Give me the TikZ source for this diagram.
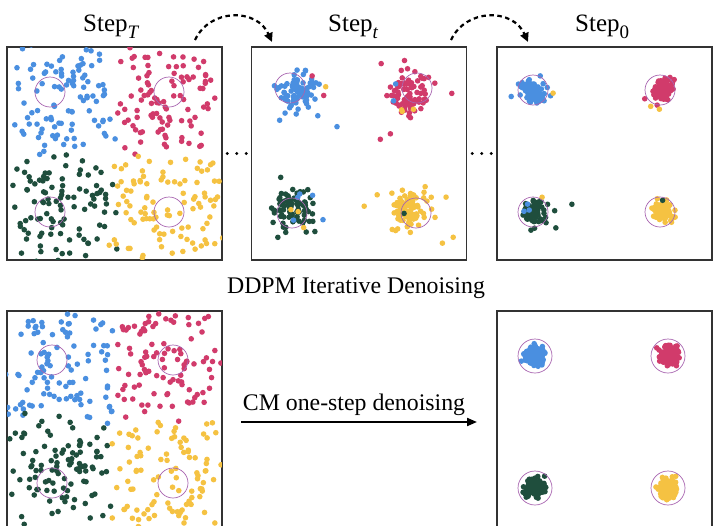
\documentclass[tikz,border=0pt]{standalone}
\usepackage{fontspec}
\setmainfont{Liberation Serif}
\usetikzlibrary{arrows.meta,calc}
\definecolor{cblue}{HTML}{4A8FE0}
\definecolor{cred}{HTML}{D13B6B}
\definecolor{cgreen}{HTML}{1F4E3D}
\definecolor{cyellow}{HTML}{F5C242}
\definecolor{cring}{HTML}{A865B0}
\definecolor{cframe}{HTML}{333333}
\newcommand\dotr{2.8pt}
% gaussian cluster: colour, cx, cy, sigma, n
\newcommand\gpts[5]{%
  \foreach \k in {1,...,#5}{%
    \pgfmathsetmacro\px{#2+#4*(rand+rand+rand)}%
    \pgfmathsetmacro\py{#3+#4*(rand+rand+rand)}%
    \fill[#1] (\px,\py) circle[radius=\dotr];
  }}
% noisy quadrant: colour, cx, cy, half width, noise, n
\newcommand\upts[6]{%
  \foreach \k in {1,...,#6}{%
    \pgfmathsetmacro\px{#2+#4*rand+#5*(rand+rand+rand)}%
    \pgfmathsetmacro\py{#3+#4*rand+#5*(rand+rand+rand)}%
    \fill[#1] (\px,\py) circle[radius=\dotr];
  }}
\newcommand\subx[1]{\raisebox{-7pt}{\fontsize{19}{19}\selectfont #1}}
\begin{document}
\begin{tikzpicture}[x=1pt,y=-1pt,
  panel/.style={draw=cframe,line width=1.1pt,inner sep=0pt,minimum width=215pt,minimum height=213pt},
  lowpanel/.style={panel,minimum height=240pt},
  ring/.style={draw=cring,line width=0.7pt},
  lbl/.style={font=\fontsize{23.8}{27}\selectfont,anchor=base,inner sep=0pt},
  ttl/.style={font=\fontsize{25}{29}\selectfont,anchor=base west,inner sep=0pt},
  hop/.style={line width=2.2pt,dash pattern=on 4.5pt off 3.5pt,-{Triangle[length=9pt,width=8.5pt]}},
  cmarrow/.style={line width=2pt,-{Triangle[length=10pt,width=8pt]}},
  ell/.style={fill=black}]
\useasboundingbox (0,0) rectangle (714,525);
\pgfmathsetseed{1234}

% panels
\node[panel] (b1) at (114.5,153.5) {};
\node[panel] (b2) at (359,153.5) {};
\node[panel] (b3) at (604.5,153.5) {};
\node[lowpanel] (b4) at (114.5,431) {};
\node[lowpanel] (b5) at (604.5,431) {};

% panel 1 : Step_T
\begin{scope}
\clip ($(b1.south west)+(0.6,-0.6)$) rectangle ($(b1.north east)+(-0.6,0.6)$);
\upts{cblue}{62}{102}{48}{6}{100}
\upts{cred}{168}{100}{48}{6}{100}
\upts{cgreen}{62}{208}{48}{6}{100}
\upts{cyellow}{168}{210}{50}{6}{100}
\end{scope}
\foreach \c in {(50,92),(169,92),(50,212),(169,212)}{\draw[ring] \c circle[radius=15pt];}

% panel 2 : Step_t
\begin{scope}
\clip ($(b2.south west)+(0.6,-0.6)$) rectangle ($(b2.north east)+(-0.6,0.6)$);
\gpts{cblue}{297}{92}{10}{80}
\gpts{cred}{410}{92}{10}{80}
\gpts{cgreen}{293}{210}{10}{80}
\gpts{cyellow}{407}{210}{10}{80}
\gpts{cblue}{297}{100}{22}{4}
\gpts{cred}{410}{100}{22}{6}
\gpts{cgreen}{293}{210}{22}{6}
\gpts{cyellow}{407}{212}{22}{8}
\gpts{cred}{315}{88}{8}{2}
\gpts{cyellow}{325}{95}{4}{1}
\gpts{cblue}{300}{205}{12}{5}
\gpts{cyellow}{300}{222}{6}{3}
\gpts{cblue}{395}{92}{5}{2}
\gpts{cyellow}{405}{110}{6}{3}
\gpts{cgreen}{405}{213}{3}{1}
\end{scope}
\foreach \c in {(290,88),(417,88),(292,213),(416,213)}{\draw[ring] \c circle[radius=15pt];}

% panel 3 : Step_0
\begin{scope}
\clip ($(b3.south west)+(0.6,-0.6)$) rectangle ($(b3.north east)+(-0.6,0.6)$);
\gpts{cblue}{533}{90}{5.2}{80}
\gpts{cred}{663}{90}{5.2}{80}
\gpts{cgreen}{533}{212}{5.2}{80}
\gpts{cyellow}{664}{213}{5.2}{80}
\gpts{cblue}{533}{92}{9}{6}
\gpts{cred}{663}{90}{9}{8}
\gpts{cgreen}{535}{212}{8}{8}
\gpts{cyellow}{664}{213}{8}{8}
\gpts{cyellow}{553}{91}{1}{1}
\gpts{cyellow}{656}{100}{4}{2}
\gpts{cblue}{523}{208}{4}{3}
\gpts{cyellow}{543}{196}{1}{1}
\gpts{cgreen}{572}{204}{1}{1}
\gpts{cgreen}{663}{200}{1}{1}
\end{scope}
\foreach \c in {(533,90),(660,90),(533,212),(660,212)}{\draw[ring] \c circle[radius=15pt];}

% panel 4 : noisy (CM)
\begin{scope}
\clip ($(b4.south west)+(0.6,-0.6)$) rectangle ($(b4.north east)+(-0.6,0.6)$);
\upts{cblue}{62}{366}{48}{6}{100}
\upts{cred}{168}{364}{48}{6}{100}
\upts{cgreen}{62}{472}{48}{6}{100}
\upts{cyellow}{168}{474}{50}{6}{100}
\end{scope}
\foreach \c in {(52,360),(173,360),(52,483),(173,483)}{\draw[ring] \c circle[radius=15pt];}

% panel 5 : CM result
\begin{scope}
\clip ($(b5.south west)+(0.6,-0.6)$) rectangle ($(b5.north east)+(-0.6,0.6)$);
\gpts{cblue}{534}{355}{4.6}{160}
\gpts{cred}{669}{355}{4.6}{160}
\gpts{cgreen}{534}{488}{4.6}{160}
\gpts{cyellow}{668}{489}{4.6}{160}
\end{scope}
\foreach \c in {(535,356),(668,356),(535,488),(668,488)}{\draw[ring] \c circle[radius=17pt];}

% ellipses between panels
\path (b1.east) -- (b2.west) coordinate[pos=0.5] (e1);
\path (b2.east) -- (b3.west) coordinate[pos=0.5] (e2);
\foreach \e in {e1,e2}{
  \fill[ell] ($(\e)+(-9.5,0)$) circle[radius=1.7pt];
  \fill[ell] (\e) circle[radius=1.7pt];
  \fill[ell] ($(\e)+(9.5,0)$) circle[radius=1.7pt];
}

% titles
\node[ttl] (t1) at (83,31) {Step\subx{\textit{T}}};
\node[ttl] (t2) at (328,31) {Step\subx{\textit{t}}};
\node[ttl] (t3) at (575,31) {Step\subx{0}};
\node[lbl] (ddpm) at (356,293) {DDPM Iterative Denoising};

% hop arrows
\coordinate (h1s) at (195,40);
\coordinate (h1e) at (272,42);
\coordinate (h2s) at (451,40);
\coordinate (h2e) at (528,42);
\draw[hop] (h1s) .. controls (210,8) and (257,8) .. (h1e);
\draw[hop] (h2s) .. controls (466,8) and (513,8) .. (h2e);

% CM arrow
\coordinate (cmA) at (241,422);
\coordinate (cmB) at (477,422);
\draw[cmarrow] (cmA) -- (cmB);
\node[lbl] (cm) at (354,410) {CM one-step denoising};
\end{tikzpicture}
\end{document}
